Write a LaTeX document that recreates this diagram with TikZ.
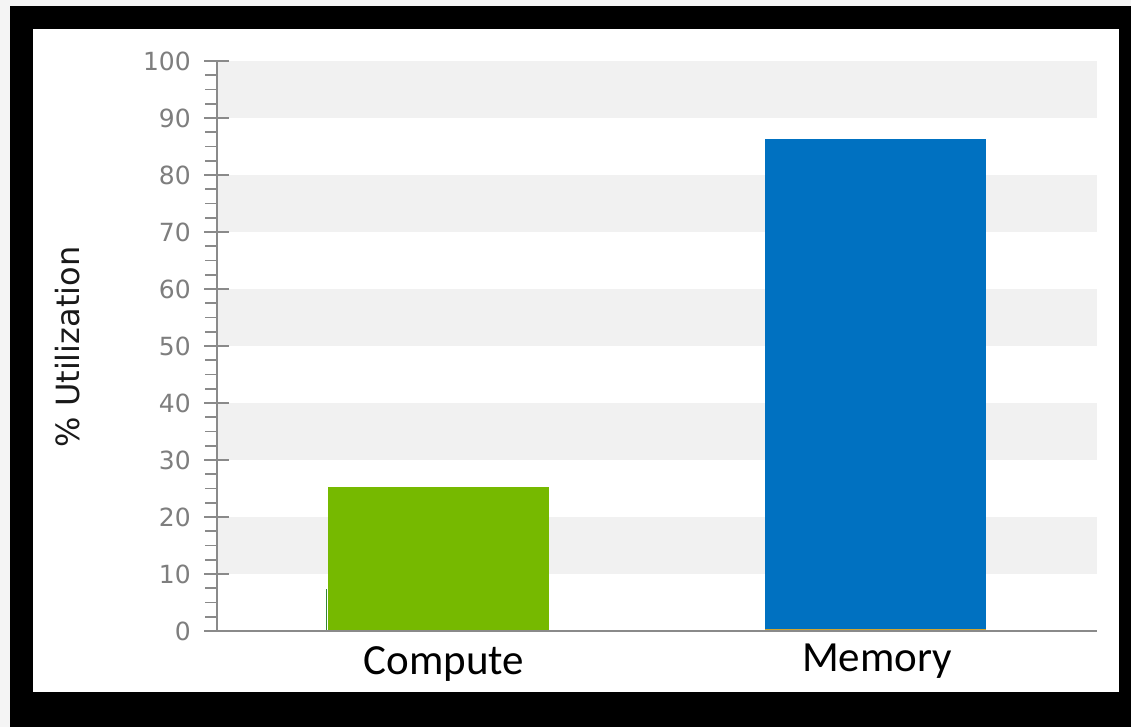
\documentclass[tikz,border=0pt]{standalone}
\usepackage{fontspec}
\setmainfont{DejaVu Sans}
\newfontfamily\labelfont{Carlito}
\definecolor{pagegray}{HTML}{F4F4F4}
\definecolor{bandgray}{HTML}{F1F1F1}
\definecolor{axisgray}{HTML}{8A8A8A}
\definecolor{ticktext}{HTML}{7E7E7E}
\definecolor{computegreen}{HTML}{76B900}
\definecolor{memoryblue}{HTML}{0071C1}
\tikzset{
  axisline/.style={draw=axisgray, line width=2pt},
  majortick/.style={draw=axisgray, line width=2pt},
  minortick/.style={draw=axisgray, line width=1.6pt},
  ticklabel/.style={anchor=east, text=ticktext, font=\fontsize{25}{25}\selectfont, inner sep=0pt},
  catlabel/.style={anchor=base, text=black, font=\labelfont\fontsize{43}{43}\selectfont, inner sep=0pt},
  band/.style={fill=bandgray},
}
\begin{document}
\begin{tikzpicture}[x=1pt, y=-1pt]
  % page, frame and plot area
  \useasboundingbox (0,0) rectangle (1131,727);
  \fill[pagegray] (0,0) rectangle (1131,727);
  \fill[black] (10,6) rectangle (1131,727);
  \fill[white] (33,29) rectangle (1119,692);

  % value v sits at y = 631 - 5.7 v
  \foreach \v in {10,30,50,70,90}
    \fill[band] (217,{631-5.7*(\v+10)}) rectangle (1097,{631-5.7*\v});

  % bars
  \fill[computegreen] (328,{631-5.7*25.2}) rectangle (549,631);
  \draw[color=black!45!green!60!gray, line width=1.5pt] (326.5,589) -- (326.5,631);
  \fill[memoryblue] (765,{631-5.7*86.4}) rectangle (986,631);
  \draw[color=brown!70!yellow, line width=1.2pt] (765,630) -- (986,630);

  % axes
  \draw[axisline] (217,61) -- (217,631);
  \draw[axisline] (204,631) -- (1097,631);
  \foreach \v in {0,10,...,100} {
    \draw[majortick] (204,{631-5.7*\v}) -- (229,{631-5.7*\v});
    \node[ticklabel] (tick\v) at (191,{631-5.7*\v}) {\v};
  }
  \foreach \v in {0,10,...,90}
    \foreach \m in {2.5,5,7.5}
      \draw[minortick] (205,{631-5.7*(\v+\m)}) -- (217,{631-5.7*(\v+\m)});

  % axis title and category labels
  \node[rotate=90, text=black!90, font=\fontsize{32}{32}\selectfont, inner sep=0pt] (ytitle) at (68,347) {\% Utilization};
  \node[catlabel] (compute) at (444,674) {Compute};
  \node[catlabel] (memory) at (877,671) {Memory};
\end{tikzpicture}
\end{document}
